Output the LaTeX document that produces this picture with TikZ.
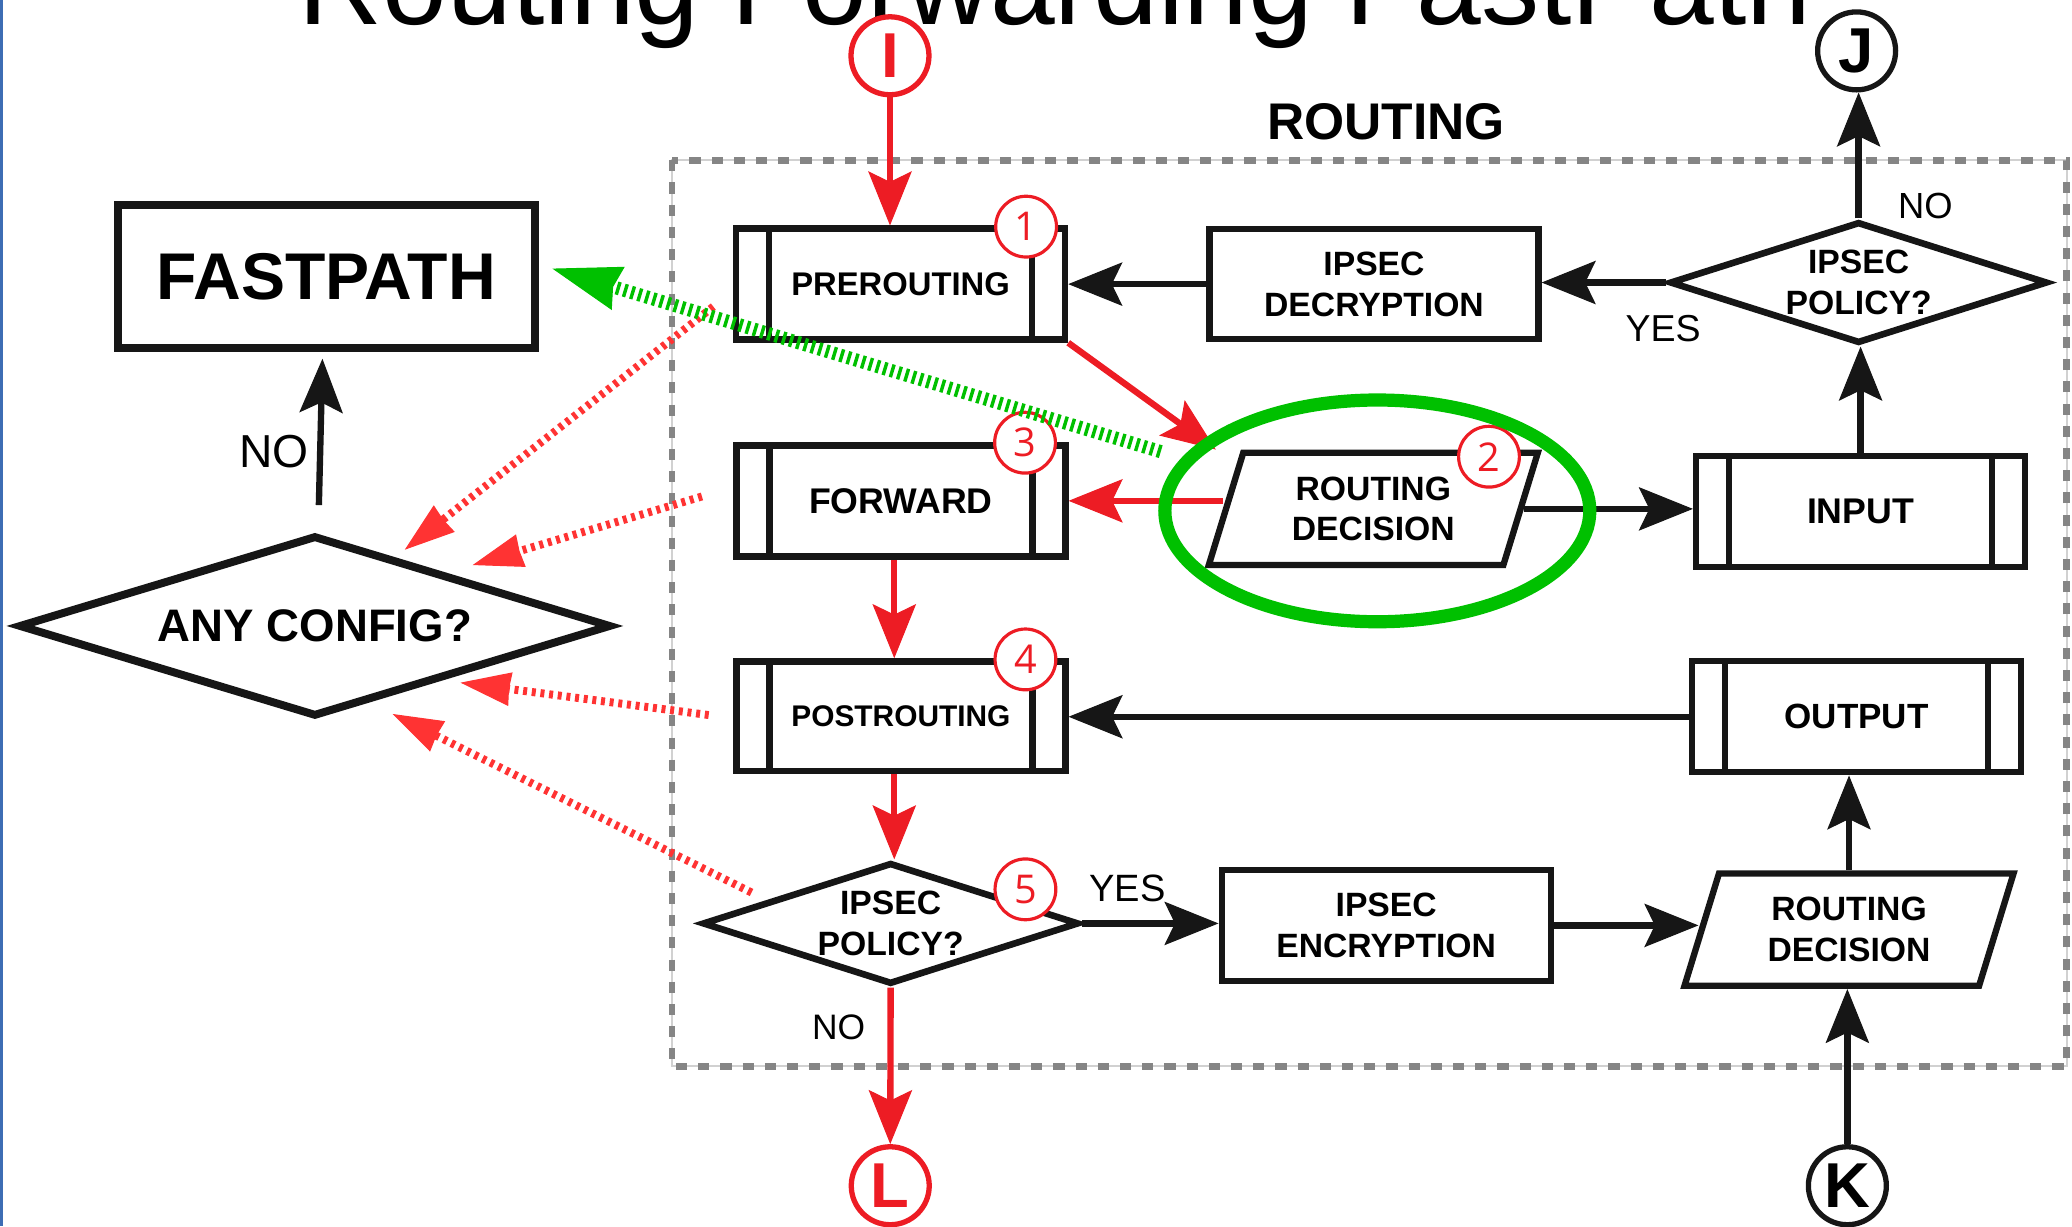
\documentclass[tikz,border=0pt]{standalone}
\usepackage{fontspec}
\setmainfont{Liberation Sans}
\newfontfamily\numfont{Open Sans}
\usetikzlibrary{arrows.meta,shapes.geometric,calc}
\pgfdeclarelayer{bottom}
\pgfdeclarelayer{bg}
\pgfdeclarelayer{top}
\pgfsetlayers{bottom,bg,main,top}
\definecolor{myred}{HTML}{ED1C24}
\definecolor{dotred}{HTML}{FF3333}
\definecolor{mygreen}{HTML}{00C000}
\definecolor{ink}{HTML}{161616}
\definecolor{dashgray}{HTML}{858585}
\definecolor{edgeblue}{HTML}{3D6DB4}
\newcommand{\myfs}[2]{\fontsize{#1}{#2}\selectfont}
\tikzset{
  box/.style={draw=ink, line width=2.4pt, fill=white, minimum width=124.5pt, minimum height=42pt,
    inner sep=0pt, align=center, font=\bfseries\myfs{12.75pt}{15.5pt}},
  diam/.style={diamond, draw=ink, line width=2.5pt, fill=white, inner sep=0pt, align=center,
    font=\bfseries\myfs{12.75pt}{15.5pt}},
  para/.style={trapezium, trapezium left angle=62, trapezium right angle=118, trapezium stretches body,
    draw=ink, line width=2.4pt, fill=white, minimum width=124.5pt, minimum height=42.5pt,
    inner sep=0pt, align=center, font=\bfseries\myfs{12.75pt}{15.5pt}},
  num/.style={circle, draw=myred, line width=1.2pt, fill=white, minimum size=23pt, inner sep=0pt,
    text=myred, font=\numfont\myfs{15pt}{15pt}},
  conn/.style={circle, line width=2pt, fill=white, minimum size=29.5pt, inner sep=0pt,
    font=\bfseries\myfs{24pt}{24pt}},
  arr/.style={draw=ink, line width=2.4pt, -{Stealth[length=20.5pt,width=16.5pt,inset=4pt,line width=0.4pt]}},
  rarr/.style={arr, draw=myred},
  darr/.style={draw=dotred, line width=3pt, dash pattern=on 1.5pt off 1.8pt,
    -{Stealth[length=19pt,width=12.75pt,inset=0.5pt,line width=0.4pt]}},
  garr/.style={draw=mygreen, line width=5pt, dash pattern=on 1.3pt off 1.55pt,
    -{Stealth[length=26pt,width=17pt,inset=2pt,line width=0.4pt]}},
  lbl/.style={inner sep=0pt, anchor=base west, font=\myfs{14pt}{14pt}},
}
\begin{document}
\begin{tikzpicture}[x=0.5pt, y=-0.5pt]
\useasboundingbox (0,0) rectangle (1568,928);

% nodes
\node[box, font=\bfseries\myfs{12.4pt}{14pt}] (pre) at (681.5,215) {PREROUTING};
\node[box, font=\bfseries\myfs{13.5pt}{15pt}] (fwd) at (681.75,379) {FORWARD};
\node[box, minimum height=41.5pt, font=\bfseries\myfs{11.3pt}{14pt}] (post) at (681.75,542) {POSTROUTING};
\node[box, minimum height=41.5pt] (dec) at (1039.75,215) {IPSEC\\DECRYPTION};
\node[box, font=\bfseries\myfs{13.5pt}{15pt}] (inp) at (1408,387.3) {INPUT};
\node[box, font=\bfseries\myfs{13.25pt}{15pt}] (out) at (1405,542.4) {OUTPUT};
\node[box] (enc) at (1049,700.3) {IPSEC\\ENCRYPTION};
\foreach \n in {pre,fwd,post,inp,out}
  \draw[draw=ink, line width=2.4pt] ([xshift=13.7pt]\n.north west) -- ([xshift=13.7pt]\n.south west)
    ([xshift=-13.7pt]\n.north east) -- ([xshift=-13.7pt]\n.south east);

\node[draw=ink, line width=3pt, fill=white, minimum width=158pt, minimum height=54.25pt, inner sep=0pt,
  font=\bfseries\myfs{25pt}{25pt}] (fp) at (247,209.25) {FASTPATH};

\node[diam, aspect=3.1, minimum width=143pt, minimum height=46pt] (pol1) at (1406.5,213.8) {IPSEC\\POLICY?};
\node[diam, aspect=3.1, minimum width=142.5pt, minimum height=46pt] (pol2) at (674,698.8) {IPSEC\\POLICY?};
\node[diam, aspect=3.27, line width=3pt, minimum width=224.25pt, minimum height=68.5pt,
  font=\bfseries\myfs{17.25pt}{17.25pt}] (cfg) at (238.3,473.7) {ANY CONFIG?};

\node[para] (rd1) at (1039.25,385.1) {ROUTING\\DECISION};
\node[para] (rd2) at (1399.25,703.5) {ROUTING\\DECISION};

\node[num] (n1) at (776.5,171.5) {1};
\node[num] (n2) at (1126.8,345.6) {2};
\node[num] (n3) at (775.7,335) {3};
\node[num] (n4) at (776,499) {4};
\node[num] (n5) at (776,673) {5};

\node[conn, draw=myred, text=myred] (cI) at (673.5,42.2) {I};
\node[conn, draw=ink] (cJ) at (1405,38.5) {J};
\node[conn, draw=myred, text=myred] (cL) at (673.7,897.3) {L};
\node[conn, draw=ink] (cK) at (1398,897.3) {K};

\node[lbl, anchor=base, font=\bfseries\myfs{19.5pt}{19.5pt}] (rtl) at (1049,105.6) {ROUTING};
\node[lbl, font=\myfs{13.75pt}{14pt}] (no1) at (1436,165) {NO};
\node[lbl, font=\myfs{14.2pt}{14pt}] (yes1) at (1229.8,258.8) {YES};
\node[lbl, font=\myfs{14.4pt}{14pt}] (yes2) at (824,682.2) {YES};
\node[lbl, font=\myfs{13.4pt}{14pt}] (no2) at (614.2,786.3) {NO};
\node[lbl, font=\myfs{17.5pt}{18pt}] (no3) at (180.5,354) {NO};

% bottom layer: frame, title
\begin{pgfonlayer}{bottom}
  \fill[edgeblue] (0,0) rectangle (2.5,928);
  \node[anchor=base, inner sep=0pt, font=\myfs{44pt}{50pt}] (title) at (798.4,18.3) {Routing Forwarding FastPath};
  \draw[line width=0.8pt, draw=black!18] (508.5,121.3) rectangle (1564,807);
  \draw[line width=2.5pt, draw=dashgray, dash pattern=on 4.2pt off 4.2pt] (508.5,121.3) rectangle (1564,807);
\end{pgfonlayer}

% connectors
\begin{pgfonlayer}{bg}
  \draw[rarr] (cI) -- (cI.south |- pre.north);
  \draw[arr] (pol1.west) -- (pol1.west -| dec.east);
  \draw[arr] (dec.west) -- (dec.west -| pre.east);
  \draw[arr] (pol1.north) -- (pol1.north |- cJ.south);
  \draw[arr] (inp.north) -- (inp.north |- pol1.south);
  \draw[rarr] (pre.south east) -- ([xshift=-9.5pt]rd1.top left corner);
  \draw[rarr] (rd1.left side |- fwd.east) -- (fwd.east);
  \draw[arr] (rd1.right side) -- (rd1.right side -| inp.west);
  \draw[rarr] ([xshift=-2.5pt]fwd.south) -- ([xshift=-2.5pt]post.north);
  \draw[arr] (out.west) -- (out.west -| post.east);
  \draw[rarr] ([xshift=-2.5pt]post.south) -- ([xshift=-2.5pt]post.south |- pol2.north);
  \draw[arr] (pol2.east) -- (pol2.east -| enc.west);
  \draw[arr] (enc.east) -- (enc.east -| rd2.left side);
  \draw[arr] (rd2.center |- rd2.top side) -- (rd2.center |- out.south);
  \draw[arr] (cK) -- (cK.north |- rd2.bottom side);
  \draw[rarr] (pol2.south) -- (cL.north);
  \draw[arr] ([xshift=1.5pt,yshift=10pt]cfg.north) -- ([xshift=-1.5pt,yshift=-2.5pt]fp.south);
\end{pgfonlayer}

% overlays
\begin{pgfonlayer}{top}
  \coordinate (d1) at (539.8,232);
  \coordinate (d2) at (531.2,375.7);
  \coordinate (d3) at (536.3,541.1);
  \coordinate (d4) at (568.7,675.4);
  \coordinate (gs) at (878.4,341.8);
  \draw[darr] (d1) -- ($(cfg)+(68,-57.7)$);
  \draw[darr] (d2) -- ($(cfg)+(119.4,-46.1)$);
  \draw[darr] (d3) -- ($(cfg)+(110.2,42.9)$);
  \draw[darr] (d4) -- ($(cfg)+(58.8,66.6)$);
  \draw[garr] (gs) -- ([xshift=5pt,yshift=3pt]fp.east);
  \node[ellipse, draw=mygreen, line width=5pt, minimum width=160.8pt, minimum height=83.9pt, inner sep=0pt] (hl) at (1042.3,386.6) {};
\end{pgfonlayer}
\end{tikzpicture}
\end{document}
